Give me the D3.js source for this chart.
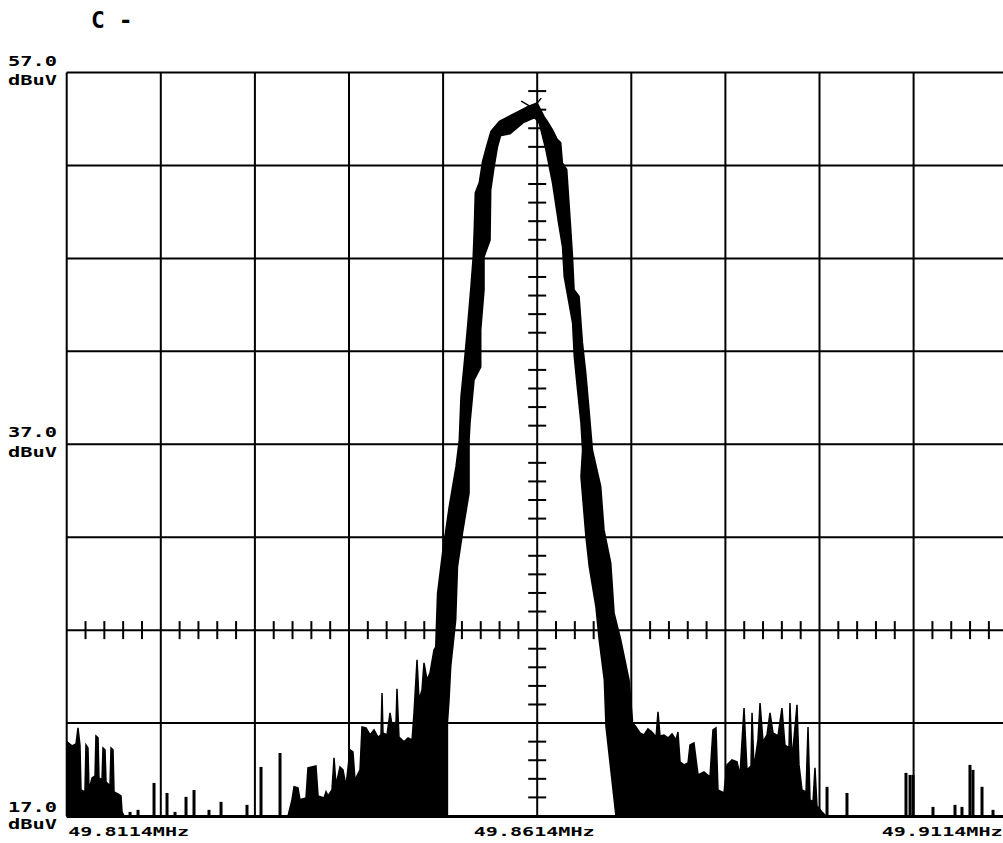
<!DOCTYPE html>
<html>
<head>
<meta charset="utf-8">
<script src="https://cdn.jsdelivr.net/npm/d3@7"></script>
<style>
  html, body { margin: 0; padding: 0; background: #fff; }
  svg { display: block; }
  .lbl { font-family: "DejaVu Sans Mono", monospace; font-weight: bold; fill: #000; }
</style>
</head>
<body>
<svg id="chart" width="1003" height="843"></svg>
<script>
// axis text
var levelTicks = [57, 37, 17];
var levelLabels = ['57.0', '37.0', '17.0'];
var freqTicks = [49.8114, 49.8614, 49.9114];
var freqLabels = ['49.8114MHz', '49.8614MHz', '49.9114MHz'];

// main carrier: outer and inner edge of the noisy trace band [MHz, dBuV]
var peakOuter = [[49.85022,17.00],[49.85072,26.47],[49.85089,28.98],[49.85142,31.14],[49.85213,33.64],
  [49.85285,35.79],[49.85320,37.23],[49.85338,39.56],[49.85373,41.37],[49.85408,43.33],[49.85444,45.48],
  [49.85468,47.09],[49.85479,48.53],[49.85490,50.52],[49.85532,51.06],[49.85567,52.20],[49.85610,53.01],
  [49.85656,53.82],[49.85745,54.35],[49.85883,54.71],[49.86028,55.09],[49.86135,55.31],[49.86205,54.62],
  [49.86241,54.35],[49.86294,53.91],[49.86347,53.37],[49.86382,53.21],[49.86400,52.13],[49.86446,51.76],
  [49.86489,48.53],[49.86507,47.09],[49.86524,45.30],[49.86577,44.94],[49.86613,42.45],[49.86648,40.84],
  [49.86683,38.84],[49.86719,36.69],[49.86807,34.72],[49.86842,32.39],[49.86914,30.60],[49.86949,27.91],
  [49.87020,26.47],[49.87108,24.32],[49.87144,22.17],[49.87158,17.00]];
var peakInner = [[49.85178,17.00],[49.85178,22.01],[49.85195,23.25],[49.85213,25.04],[49.85266,27.55],
  [49.85285,30.42],[49.85338,32.23],[49.85408,34.38],[49.85408,37.23],[49.85418,38.15],[49.85461,40.46],
  [49.85532,41.17],[49.85532,43.15],[49.85567,45.30],[49.85567,47.09],[49.85631,47.99],[49.85638,50.68],
  [49.85674,51.93],[49.85710,53.01],[49.85745,53.64],[49.85851,53.75],[49.85989,54.35],[49.86117,54.62],
  [49.86170,54.28],[49.86241,52.83],[49.86311,51.06],[49.86375,48.90],[49.86417,47.63],[49.86435,46.02],
  [49.86524,43.53],[49.86542,41.71],[49.86577,39.92],[49.86613,38.15],[49.86630,36.69],[49.86613,35.26],
  [49.86666,32.03],[49.86701,30.42],[49.86772,28.26],[49.86807,26.47],[49.86861,24.32],[49.86879,21.81],
  [49.86985,17.00]];

// dense noise clusters (top outline) [MHz, dBuV]
var noiseLow = [[49.81143,17.00],[49.81143,20.99],[49.81196,20.77],[49.81239,20.88],[49.81260,21.74],
  [49.81281,20.82],[49.81292,18.40],[49.81334,18.30],[49.81345,20.82],[49.81366,20.66],[49.81377,18.40],
  [49.81409,19.05],[49.81441,19.16],[49.81451,21.31],[49.81473,21.20],[49.81483,19.05],[49.81515,18.94],
  [49.81526,20.66],[49.81547,20.56],[49.81558,18.83],[49.81600,18.62],[49.81611,20.66],[49.81632,20.56],
  [49.81643,18.30],[49.81685,18.19],[49.81717,18.08],[49.81728,17.22],[49.81749,17.00]];
var noiseLeft = [[49.83492,17.00],[49.83534,17.87],[49.83556,18.57],[49.83598,18.51],[49.83619,17.87],
  [49.83683,17.97],[49.83704,19.59],[49.83789,19.69],[49.83811,18.08],[49.83874,17.97],[49.83896,18.30],
  [49.83917,18.08],[49.83959,18.40],[49.83981,20.13],[49.84002,18.67],[49.84044,19.64],[49.84076,19.48],
  [49.84108,18.62],[49.84151,20.56],[49.84182,20.45],[49.84204,18.94],[49.84257,19.48],[49.84278,21.79],
  [49.84321,21.74],[49.84363,21.36],[49.84406,21.63],[49.84448,21.25],[49.84480,21.36],[49.84491,23.62],
  [49.84501,21.47],[49.84544,21.36],[49.84576,22.55],[49.84597,21.90],[49.84640,22.06],[49.84650,23.84],
  [49.84671,21.25],[49.84725,20.99],[49.84767,21.20],[49.84810,21.09],[49.84831,22.55],[49.84863,25.40],
  [49.84884,23.25],[49.84916,23.78],[49.84937,25.24],[49.84969,24.32],[49.85001,24.70],[49.85043,25.93],
  [49.85107,26.47],[49.85107,17.00]];
var noiseRight = [[49.87062,17.00],[49.87062,23.78],[49.87105,23.25],[49.87147,22.06],[49.87190,21.79],
  [49.87232,21.47],[49.87275,21.36],[49.87317,21.69],[49.87360,21.52],[49.87403,21.25],[49.87424,22.60],
  [49.87445,21.31],[49.87487,21.36],[49.87530,21.20],[49.87573,21.42],[49.87615,21.09],[49.87636,21.52],
  [49.87658,19.91],[49.87700,19.75],[49.87743,19.86],[49.87764,20.82],[49.87806,20.93],[49.87849,19.21],
  [49.87913,19.37],[49.87976,19.10],[49.88008,21.63],[49.88040,21.74],[49.88061,18.40],[49.88125,18.24],
  [49.88157,19.75],[49.88210,20.02],[49.88263,19.91],[49.88295,19.21],[49.88338,22.81],[49.88369,19.48],
  [49.88412,19.69],[49.88423,22.55],[49.88444,19.59],[49.88486,21.09],[49.88508,23.08],[49.88540,20.99],
  [49.88582,21.36],[49.88614,22.55],[49.88646,21.47],[49.88699,21.31],[49.88741,22.81],[49.88773,20.82],
  [49.88816,20.66],[49.88826,23.08],[49.88848,20.02],[49.88901,22.98],[49.88922,19.75],[49.88954,18.40],
  [49.88997,18.30],[49.89018,21.79],[49.89039,17.87],[49.89071,17.76],[49.89092,19.59],[49.89113,17.54],
  [49.89167,17.22],[49.89209,17.00]];

// single noise spikes [MHz, dBuV]
var spikes = [[49.81813,17.22],[49.81898,17.33],[49.82068,18.78],[49.82206,18.24],[49.82291,17.22],
  [49.82408,18.03],[49.82493,18.40],[49.82652,17.33],[49.82780,17.76],[49.83056,17.60],[49.83205,19.64],
  [49.83407,20.39],[49.89220,18.57],[49.89432,18.24],[49.90059,19.32],[49.90102,19.21],[49.90134,19.21],
  [49.90346,17.49],[49.90580,17.60],[49.90654,17.49],[49.90739,19.75],[49.90771,19.48],[49.90867,18.57],
  [49.90984,17.33]];

var marker = [49.8614, 55.3];

var svg = d3.select('#chart');
var x = d3.scaleLinear().domain([49.8114, 49.9114]).range([66.7, 1007.7]);
var y = d3.scaleLinear().domain([17, 57]).range([816, 72.5]);

// title
svg.append('text').attr('class', 'lbl')
  .attr('x', 91).attr('y', 28)
  .style('font-size', '23px')
  .attr('xml:space', 'preserve')
  .text('C -');

// graticule
var grid = svg.append('g').attr('stroke', '#000').attr('stroke-width', 2);
var vLines = d3.range(0, 11).map(i => 49.8114 + i * 0.01);
var hLines = d3.range(17, 58, 5);
grid.selectAll('.v').data(vLines).enter().append('line')
  .attr('x1', d => x(d)).attr('x2', d => x(d))
  .attr('y1', y(57)).attr('y2', y(17));
grid.selectAll('.h').data(hLines).enter().append('line')
  .attr('x1', x(49.8114)).attr('x2', x(49.9114))
  .attr('y1', d => y(d)).attr('y2', d => y(d));

// minor ticks on centre lines
var yMinor = d3.range(18, 57, 1).filter(d => d % 5 != 2);
grid.selectAll('.ty').data(yMinor).enter().append('line')
  .attr('x1', x(49.8614) - 9).attr('x2', x(49.8614) + 9)
  .attr('y1', d => y(d)).attr('y2', d => y(d));
var xMinor = d3.range(1, 50).filter(i => i % 5 != 0).map(i => 49.8114 + i * 0.002);
grid.selectAll('.tx').data(xMinor).enter().append('line')
  .attr('x1', d => x(d)).attr('x2', d => x(d))
  .attr('y1', y(27) - 9).attr('y2', y(27) + 9);

// trace
var trace = svg.append('g').attr('fill', '#000').attr('stroke', '#000');
var outline = d3.line().x(d => x(d[0])).y(d => y(d[1]));
var floorArea = d3.area().x(d => x(d[0])).y0(y(17)).y1(d => y(d[1]));

[noiseLow, noiseLeft, noiseRight].forEach(function (n) {
  trace.append('path').datum(n).attr('d', floorArea)
    .attr('stroke-width', 1.5).attr('stroke-linejoin', 'miter');
});

trace.append('path')
  .datum(peakOuter.concat(peakInner.slice().reverse()))
  .attr('stroke-width', 3).attr('stroke-linejoin', 'round')
  .attr('d', d => outline(d) + 'Z');

trace.selectAll('.spike').data(spikes).enter().append('line')
  .attr('stroke-width', 3)
  .attr('x1', d => x(d[0])).attr('x2', d => x(d[0]))
  .attr('y1', y(17)).attr('y2', d => y(d[1]));

// baseline of the trace
trace.append('line').attr('stroke-width', 3)
  .attr('x1', x(49.8114)).attr('x2', x(49.9114))
  .attr('y1', y(17) + 0.5).attr('y2', y(17) + 0.5);

// peak marker
var mx = x(marker[0]), my = y(marker[1]);
trace.append('path')
  .attr('stroke-width', 1.5).attr('fill', 'none')
  .attr('d', `M${mx - 16},${my - 3}L${mx - 4},${my + 4}M${mx + 4},${my - 6}L${mx - 4},${my + 4}`);

// level labels
levelTicks.forEach(function (v, i) {
  var off = v == 17 ? -4 : -7;
  svg.append('text').attr('class', 'lbl')
    .attr('x', 8).attr('y', y(v) + off)
    .attr('textLength', 49).attr('lengthAdjust', 'spacingAndGlyphs')
    .style('font-size', '13.5px')
    .text(levelLabels[i]);
  svg.append('text').attr('class', 'lbl')
    .attr('x', 8).attr('y', y(v) + 12.5)
    .attr('textLength', 49).attr('lengthAdjust', 'spacingAndGlyphs')
    .style('font-size', '13.5px')
    .text('dBuV');
});

// frequency labels
var anchors = ['start', 'middle', 'end'];
var nudge = [1.5, -3, -5];
freqTicks.forEach(function (f, i) {
  svg.append('text').attr('class', 'lbl')
    .attr('x', x(f) + nudge[i]).attr('y', 836)
    .attr('text-anchor', anchors[i])
    .attr('textLength', 121).attr('lengthAdjust', 'spacingAndGlyphs')
    .style('font-size', '12.5px')
    .text(freqLabels[i]);
});
</script>
</body>
</html>
